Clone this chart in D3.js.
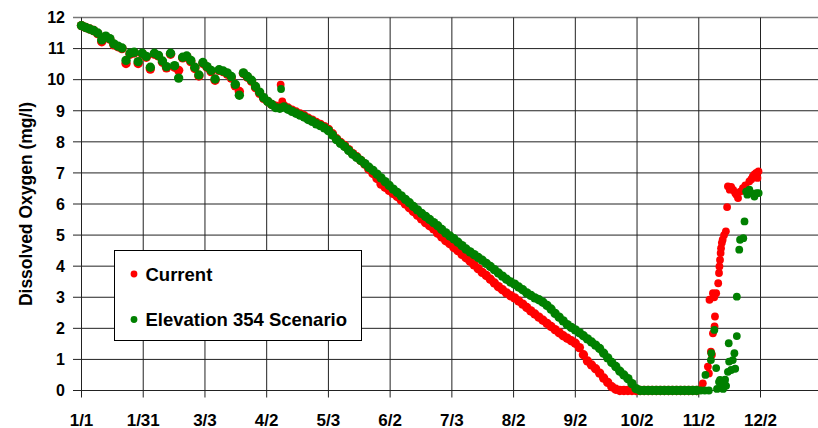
<!DOCTYPE html>
<html>
<head>
<meta charset="utf-8">
<script src="https://cdn.jsdelivr.net/npm/d3@7"></script>
<style>
  body { margin: 0; background: #fff; }
  text { font-family: "Liberation Sans", Arial, sans-serif; font-weight: bold; fill: #000; }
</style>
</head>
<body>
<svg id="chart" width="818" height="428"></svg>
<script>
// day of year (0 = 1/1), one reading every 2 days
var startDay = 0;
var stepDays = 2;

var current = [
  11.74, 11.68, 11.63, 11.58, 11.48, 11.22, 11.38, 11.30, 11.12, 11.06,
  11.00, 10.52, 10.82, 10.86, 10.52, 10.83, 10.72, 10.34, 10.82, 10.76,
  10.56, 10.38, 10.82, 10.40, 10.30, 10.70, 10.74, 10.58, 10.36, 10.12,
  10.52, 10.40, 10.26, 9.98, 10.30, 10.26, 10.18, 10.05, 9.80, 9.62,
  10.20, 10.08, 9.95, 9.74, 9.56, 9.40, 9.30, 9.20, 9.15, 9.12,
  9.16, 9.09, 9.02, 8.96, 8.90, 8.84, 8.76, 8.70, 8.62, 8.56,
  8.49, 8.40, 8.26, 8.10, 7.98, 7.88, 7.75, 7.62, 7.52, 7.40,
  7.28, 7.12, 6.98, 6.82, 6.64, 6.54, 6.44, 6.34, 6.24, 6.12,
  6.00, 5.88, 5.76, 5.64, 5.52, 5.40, 5.30, 5.20, 5.06, 4.94,
  4.82, 4.72, 4.60, 4.50, 4.38, 4.27, 4.16, 4.04, 3.92, 3.80,
  3.70, 3.58, 3.46, 3.34, 3.24, 3.14, 3.05, 2.98, 2.88, 2.78,
  2.67, 2.56, 2.46, 2.36, 2.26, 2.16, 2.06, 1.96, 1.86, 1.76,
  1.68, 1.60, 1.52, 1.38, 1.15, 0.95, 0.82, 0.70, 0.56, 0.40,
  0.26, 0.12, 0.04, 0, 0, 0, 0, 0, 0, 0,
  0, 0, 0, 0, 0, 0, 0, 0, 0, 0,
  0, 0, 0
];

var scenario = [
  11.74, 11.68, 11.63, 11.58, 11.50, 11.28, 11.40, 11.32, 11.15, 11.08,
  11.02, 10.62, 10.85, 10.88, 10.58, 10.85, 10.75, 10.40, 10.85, 10.78,
  10.60, 10.42, 10.85, 10.45, 10.05, 10.72, 10.76, 10.62, 10.40, 10.15,
  10.55, 10.42, 10.30, 10.02, 10.32, 10.28, 10.22, 10.10, 9.85, 9.50,
  10.22, 10.10, 9.98, 9.78, 9.60, 9.42, 9.30, 9.20, 9.10, 9.08,
  9.12, 9.05, 8.98, 8.92, 8.86, 8.80, 8.72, 8.66, 8.58, 8.52,
  8.45, 8.36, 8.22, 8.07, 7.95, 7.85, 7.72, 7.60, 7.50, 7.40,
  7.30, 7.18, 7.08, 6.96, 6.84, 6.72, 6.60, 6.48, 6.37, 6.26,
  6.15, 6.04, 5.92, 5.81, 5.70, 5.60, 5.50, 5.40, 5.30, 5.18,
  5.07, 4.97, 4.88, 4.77, 4.66, 4.55, 4.46, 4.37, 4.28, 4.19,
  4.09, 3.99, 3.89, 3.78, 3.68, 3.58, 3.49, 3.42, 3.33, 3.24,
  3.14, 3.06, 2.98, 2.92, 2.84, 2.74, 2.62, 2.48, 2.36, 2.24,
  2.12, 2.03, 1.95, 1.86, 1.76, 1.66, 1.56, 1.46, 1.35, 1.20,
  1.05, 0.90, 0.77, 0.62, 0.50, 0.38, 0.22, 0.06, 0, 0,
  0, 0, 0, 0, 0, 0, 0, 0, 0, 0,
  0, 0, 0
];

// odd readings: spring outliers and the November recovery, [day, mg/l]
var currentExtra = [
  [98.4, 9.84], [99.2, 9.30],
  [306, 0.05], [307, 0.23], [309.5, 0.77], [310, 0.55], [311, 1.25], [311.5, 1.15],
  [312, 1.84], [312.8, 2.06], [313, 2.38], [310.3, 2.92], [312, 3.13], [313.6, 3.13],
  [312.6, 3.0], [314.6, 3.45], [315, 3.78], [315.2, 3.99], [315.5, 4.2], [315.8, 4.42],
  [316, 4.58], [316.4, 4.75], [316.8, 4.85], [317.5, 5.0], [318.4, 5.12], [319, 5.9],
  [319.4, 6.57], [320.3, 6.46], [321, 6.55], [322, 6.45], [323, 6.35], [323.6, 6.30],
  [324.4, 6.19], [325.5, 6.4], [326.8, 6.51], [328, 6.6], [330, 6.73], [331, 6.8],
  [331.7, 6.89], [332.5, 6.95], [333.4, 7.0], [334, 6.84], [334.5, 7.05]
];

var scenarioExtra = [
  [98.6, 9.70],
  [306, 0], [308, 0], [310, 0], [308.3, 0.5], [311, 0.98], [311.2, 1.2], [312.7, 1.95],
  [313.6, 0.72], [314, 0.05], [315, 0.28], [315.5, 0.34], [316, 0.2], [316.5, 0.1],
  [317, 0.05], [317.7, 0.28], [318, 0.35], [318.5, 0.15], [319.4, 0.6], [319.8, 1.52],
  [320, 0.93], [321, 0.66], [321.8, 0.98], [322.6, 1.2], [323, 0.7], [323.8, 1.75],
  [323.8, 3.02], [325, 4.53], [325.4, 4.85], [327, 4.9], [327.6, 5.44], [328.4, 6.4],
  [329, 6.3], [330, 6.46], [331, 6.35], [332.5, 6.24], [333.5, 6.35], [334.6, 6.35]
];

var xTickLabels = ['1/1', '1/31', '3/3', '4/2', '5/3', '6/2', '7/3', '8/2', '9/2', '10/2', '11/2', '12/2'];
var xTickStep = 30.5;
var yTicks = [0, 1, 2, 3, 4, 5, 6, 7, 8, 9, 10, 11, 12];

var seriesNames = ['Current', 'Elevation 354 Scenario'];
var seriesColors = ['#ff0000', '#008000'];

var svg = d3.select('#chart');
var x = d3.scaleLinear().domain([0, 335.5]).range([81.5, 760.5]);
var y = d3.scaleLinear().domain([0, 12]).range([390.5, 17.5]);
var xTicks = xTickLabels.map(function (d, i) { return i * xTickStep; });

// regular readings get a slightly bigger dot so the band reads as one thick trace
function toPoints(values, extra) {
  return values.map(function (v, i) {
    return { day: startDay + i * stepDays, value: v, r: 4.7 };
  }).concat(extra.map(function (d) {
    return { day: d[0], value: d[1], r: 3.9 };
  }));
}

// grid
var grid = svg.append('g').attr('class', 'grid');
grid.selectAll('line.h')
  .data(yTicks)
  .join('line')
    .attr('class', 'h')
    .attr('x1', 73).attr('x2', 818)
    .attr('y1', function (d) { return y(d); })
    .attr('y2', function (d) { return y(d); })
    .attr('stroke', function (d) { return d === 12 ? '#777' : '#222'; })
    .attr('stroke-width', function (d) { return d === 12 ? 1.5 : 1; });

grid.selectAll('line.v')
  .data(xTicks)
  .join('line')
    .attr('class', 'v')
    .attr('x1', function (d) { return x(d); })
    .attr('x2', function (d) { return x(d); })
    .attr('y1', y(12)).attr('y2', 397.5)
    .attr('stroke', '#222');

// tick labels
svg.append('g')
  .selectAll('text')
  .data(yTicks)
  .join('text')
    .attr('x', 65)
    .attr('y', function (d) { return y(d); })
    .attr('dy', '0.36em')
    .attr('text-anchor', 'end')
    .style('font-size', '16px')
    .text(function (d) { return d; });

svg.append('g')
  .selectAll('text')
  .data(xTicks)
  .join('text')
    .attr('x', function (d) { return x(d); })
    .attr('y', 425.5)
    .attr('text-anchor', 'middle')
    .style('font-size', '17px')
    .text(function (d, i) { return xTickLabels[i]; });

svg.append('text')
  .attr('transform', 'translate(32,' + ((y(0) + y(12)) / 2) + ') rotate(-90)')
  .attr('text-anchor', 'middle')
  .style('font-size', '17.5px')
  .text('Dissolved Oxygen (mg/l)');

// series, scenario drawn on top
[toPoints(current, currentExtra), toPoints(scenario, scenarioExtra)].forEach(function (pts, k) {
  svg.append('g')
    .selectAll('circle')
    .data(pts)
    .join('circle')
      .attr('cx', function (d) { return x(d.day); })
      .attr('cy', function (d) { return y(d.value); })
      .attr('r', function (d) { return d.r; })
      .attr('fill', seriesColors[k]);
});

// legend
var legend = svg.append('g').attr('class', 'legend');
legend.append('rect')
  .attr('x', 114.5).attr('y', 250.5)
  .attr('width', 247).attr('height', 90)
  .attr('fill', '#fff')
  .attr('stroke', '#000');

var item = legend.selectAll('g.item')
  .data(seriesNames)
  .join('g')
    .attr('class', 'item')
    .attr('transform', function (d, i) { return 'translate(134,' + (274 + i * 45.5) + ')'; });

item.append('circle')
  .attr('r', 3.4)
  .attr('fill', function (d, i) { return seriesColors[i]; });

item.append('text')
  .attr('x', 11.5)
  .attr('y', 6.7)
  .style('font-size', '18.5px')
  .text(function (d) { return d; });
</script>
</body>
</html>
